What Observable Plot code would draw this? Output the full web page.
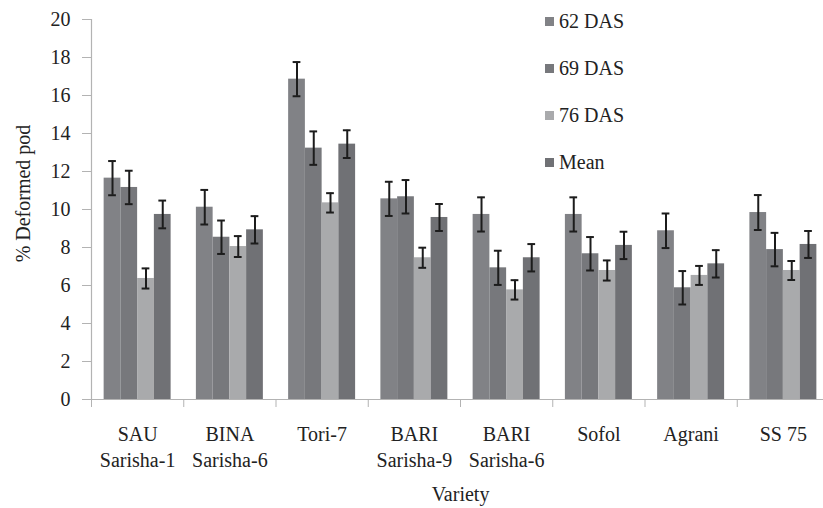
<!DOCTYPE html>
<html>
<head>
<meta charset="utf-8">
<script src="https://cdn.jsdelivr.net/npm/d3@7"></script>
<script src="https://cdn.jsdelivr.net/npm/@observablehq/plot@0.6"></script>
<style>
  html, body { margin: 0; padding: 0; background: #fff; overflow: hidden; }
  #wrap { position: relative; width: 823px; height: 508px; }
  #legend { position: absolute; left: 545px; top: 10px; font-family: "Liberation Serif", "Times New Roman", Times, "DejaVu Serif", serif; font-size: 20px; color: #222; }
  #legend .row { height: 47px; display: flex; align-items: flex-start; }
  #legend .sw { width: 9px; height: 9px; margin-top: 7px; margin-right: 5px; }
  svg text { font-family: "Liberation Serif", "Times New Roman", Times, "DejaVu Serif", serif; }
</style>
</head>
<body>
<div id="wrap"><div id="legend"></div></div>
<script>
const varieties = ["SAU\nSarisha-1", "BINA\nSarisha-6", "Tori-7", "BARI\nSarisha-9", "BARI\nSarisha-6", "Sofol", "Agrani", "SS 75"];
const seriesNames = ["62 DAS", "69 DAS", "76 DAS", "Mean"];
const seriesColors = ["#818286", "#77787c", "#a9aaac", "#707175"];

const das62 = [11.65, 10.12, 16.86, 10.56, 9.74, 9.74, 8.88, 9.84];
const das69 = [11.16, 8.54, 13.23, 10.67, 6.93, 7.67, 5.88, 7.89];
const das76 = [6.37, 8.05, 10.35, 7.46, 5.77, 6.79, 6.53, 6.79];
const meanV = [9.74, 8.93, 13.44, 9.58, 7.46, 8.11, 7.14, 8.16];

const err62 = [0.90, 0.91, 0.90, 0.90, 0.90, 0.90, 0.91, 0.92];
const err69 = [0.88, 0.88, 0.88, 0.88, 0.90, 0.88, 0.88, 0.88];
const err76 = [0.53, 0.55, 0.51, 0.53, 0.51, 0.53, 0.50, 0.50];
const errMean = [0.73, 0.72, 0.73, 0.71, 0.72, 0.72, 0.72, 0.71];

const yTicks = d3.range(0, 21, 2);

const values = [das62, das69, das76, meanV];
const errors = [err62, err69, err76, errMean];

const groupPad = 0.137;
const barW = (1 - 2 * groupPad) / 4;

const rows = [];
varieties.forEach((v, i) => {
  seriesNames.forEach((s, k) => {
    const x1 = i + groupPad + k * barW;
    rows.push({
      variety: v, series: s, value: values[k][i], err: errors[k][i],
      x1, x2: x1 + barW, xc: x1 + barW / 2, color: seriesColors[k]
    });
  });
});

const capHalf = 0.042;
const serif = '"Liberation Serif", "Times New Roman", Times, "DejaVu Serif", serif';

const chart = Plot.plot({
  width: 823,
  height: 508,
  marginLeft: 91,
  marginRight: 0,
  marginTop: 19,
  marginBottom: 109,
  style: { fontFamily: serif, fontSize: "20px", color: "#222", background: "transparent" },
  x: { type: "linear", domain: [0, 8], range: [91, 829] },
  y: { domain: [0, 20] },
  marks: [
    Plot.rectY(rows, { x1: "x1", x2: "x2", y: "value", fill: "color" }),
    Plot.ruleX(rows, { x: "xc", y1: d => d.value - d.err, y2: d => d.value + d.err, stroke: "#1c1c1c", strokeWidth: 2 }),
    Plot.ruleY(rows, { y: d => d.value + d.err, x1: d => d.xc - capHalf, x2: d => d.xc + capHalf, stroke: "#1c1c1c", strokeWidth: 2 }),
    Plot.ruleY(rows, { y: d => d.value - d.err, x1: d => d.xc - capHalf, x2: d => d.xc + capHalf, stroke: "#1c1c1c", strokeWidth: 2 }),
    Plot.ruleX([0], { stroke: "#b3b3b3", strokeWidth: 1.2 }),
    Plot.ruleY([0], { stroke: "#b3b3b3", strokeWidth: 1.2 }),
    Plot.axisY({ ticks: yTicks, tickSize: 9, tickPadding: 12, stroke: "#b3b3b3", fill: "#222", label: null, fontSize: 20 }),
    Plot.axisX({ ticks: d3.range(0, 9), tickSize: 8, tickFormat: () => "", stroke: "#b3b3b3", label: null }),
    Plot.text(varieties, { x: (d, i) => i + 0.5, y: 0, text: d => d, lineAnchor: "top", dy: 23, lineHeight: 1.3, fill: "#222", fontSize: 20 }),
    Plot.text(["Variety"], { x: 4, y: 0, text: d => d, lineAnchor: "top", dy: 87, fill: "#222", fontSize: 20 }),
    Plot.text(["% Deformed pod"], { frameAnchor: "left", textAnchor: "middle", rotate: -90, dx: -68, dy: -16, text: d => d, fill: "#222", fontSize: 20 })
  ]
});

const wrap = document.getElementById("wrap");
wrap.insertBefore(chart, wrap.firstChild);

const legend = document.getElementById("legend");
seriesNames.forEach((s, k) => {
  const row = document.createElement("div");
  row.className = "row";
  const sw = document.createElement("div");
  sw.className = "sw";
  sw.style.background = seriesColors[k];
  const t = document.createElement("span");
  t.textContent = s;
  row.appendChild(sw);
  row.appendChild(t);
  legend.appendChild(row);
});
</script>
</body>
</html>
